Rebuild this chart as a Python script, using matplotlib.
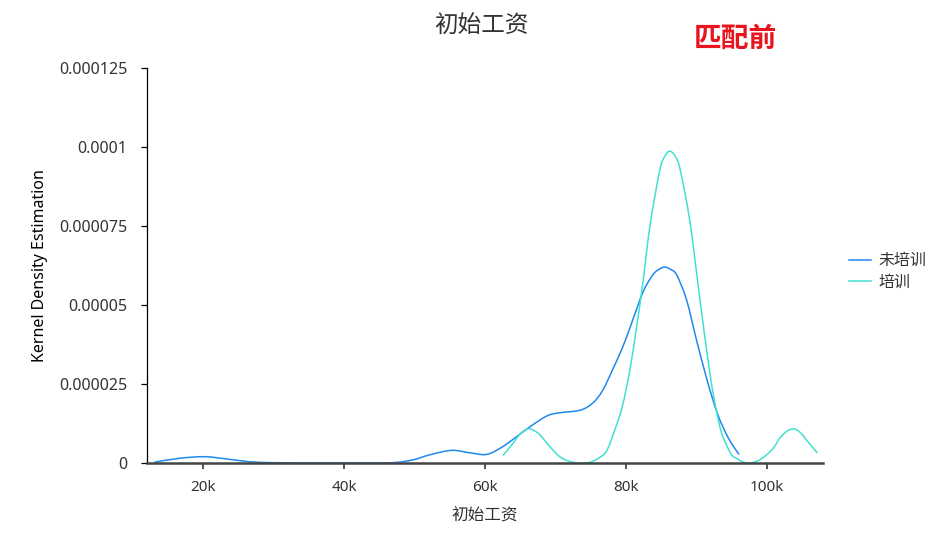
import matplotlib
matplotlib.use("Agg")
import numpy as np
import matplotlib.pyplot as plt
from matplotlib.lines import Line2D
from matplotlib.path import Path
from matplotlib.patches import PathPatch

plt.rcParams['font.family'] = ['Noto Sans', 'Noto Sans CJK SC', 'DejaVu Sans']

# ---- data (x in thousands, density in 1e-5) ----
untrained_x = [13.2, 16.7, 20.2, 23.3, 26.6, 30, 35, 40, 45, 47.5, 49.8, 52.2, 55.3, 57.9,
               60.2, 62.1, 64.0, 66.4, 68.8, 70.6, 73.5, 75.3, 76.7, 78.2, 79.5, 80.6, 82.4,
               83.8, 84.7, 85.5, 86.3, 87.2, 88.6, 90.0, 91.5, 93.0, 94.5, 96.0]
untrained_y = [0.03, 0.15, 0.20, 0.13, 0.04, 0.01, 0.0, 0.0, 0.0, 0.02, 0.10, 0.26, 0.40, 0.32,
               0.27, 0.46, 0.75, 1.15, 1.49, 1.59, 1.67, 1.90, 2.30, 3.0, 3.65, 4.3, 5.4,
               5.95, 6.13, 6.2, 6.13, 5.95, 5.16, 3.9, 2.63, 1.55, 0.80, 0.28]

trained_x = [62.6, 64.0, 65.0, 66.1, 67.0, 67.8, 69.2, 70.6, 72.0, 73.5, 75.0, 76.3, 77.3,
             78.5, 79.5, 80.6, 81.5, 82.4, 83.4, 84.8, 85.5, 86.2, 87.0, 87.7, 89.1, 90.5,
             91.9, 92.8, 93.5, 94.2, 95.0, 95.6, 96.5, 97.5, 98.7, 99.9, 101.0, 101.8,
             102.8, 103.8, 104.7, 105.6, 107.1]
trained_y = [0.25, 0.63, 0.92, 1.08, 1.02, 0.89, 0.52, 0.20, 0.05, 0.0, 0.03, 0.18, 0.40,
             1.1, 1.8, 3.0, 4.3, 5.7, 7.5, 9.27, 9.7, 9.87, 9.7, 9.27, 7.6, 5.16,
             2.85, 1.68, 1.0, 0.6, 0.25, 0.16, 0.04, 0.0, 0.07, 0.25, 0.5, 0.78,
             1.0, 1.08, 0.97, 0.73, 0.33]

series_names = ['未培训', '培训']
series_colors = ['#1E88F0', '#40E0D0']

x_ticks = [20, 40, 60, 80, 100]
x_tick_labels = ['20k', '40k', '60k', '80k', '100k']
y_ticks = [0, 2.5, 5.0, 7.5, 10.0, 12.5]
y_tick_labels = ['0', '0.000025', '0.00005', '0.000075', '0.0001', '0.000125']


def smooth_path(xs, ys, k=1 / 6):
    """Smooth line through the data points (cubic Bezier segments, like a 'smooth' line)."""
    p = np.column_stack([xs, ys]).astype(float)
    verts = [p[0]]
    codes = [Path.MOVETO]
    n = len(p)
    for i in range(n - 1):
        p0 = p[i - 1] if i > 0 else p[i]
        p1, p2 = p[i], p[i + 1]
        p3 = p[i + 2] if i + 2 < n else p[i + 1]
        c1 = p1 + (p2 - p0) * k
        c2 = p2 - (p3 - p1) * k
        verts += [c1, c2, p2]
        codes += [Path.CURVE4] * 3
    return Path(verts, codes)


W, H = 944, 537
fig = plt.figure(figsize=(W / 100, H / 100), dpi=100)
left, right, top, bottom = 147, 823, 68, 463
ax = fig.add_axes([left / W, 1 - bottom / H, (right - left) / W, (bottom - top) / H])

for xs, ys, c in [(untrained_x, untrained_y, series_colors[0]),
                  (trained_x, trained_y, series_colors[1])]:
    ax.add_patch(PathPatch(smooth_path(xs, ys), fill=False, edgecolor=c, lw=1.1,
                           capstyle='round', joinstyle='round'))

ax.set_xlim(12.06, 107.95)
ax.set_ylim(0, 12.5)

for s in ['top', 'right']:
    ax.spines[s].set_visible(False)
ax.spines['left'].set_color('#000000')
ax.spines['left'].set_linewidth(0.9)
ax.spines['bottom'].set_color('#444444')
ax.spines['bottom'].set_linewidth(1.8)

ax.set_xticks(x_ticks)
ax.set_xticklabels(x_tick_labels)
ax.set_yticks(y_ticks)
ax.set_yticklabels(y_tick_labels)
ax.tick_params(axis='x', length=4, width=1.3, color='#444444', labelsize=11,
               labelcolor='#333333', pad=8)
ax.tick_params(axis='y', length=4, width=0.9, color='#000000', labelsize=11.5,
               labelcolor='#333333', pad=10)

ax.set_xlabel('初始工资', fontsize=12, color='#333333', labelpad=9)
ax.set_ylabel('Kernel Density Estimation', fontsize=11.5, color='#000000', labelpad=8)

fig.text(481 / W, 1 - 27 / H, '初始工资', ha='center', va='center', fontsize=17, color='#333333')
fig.text(735 / W, 1 - 40 / H, '匹配前', ha='center', va='center', fontsize=20,
         fontweight='bold', color='#E8141E')

handles = [Line2D([0], [0], color=c, lw=1.1) for c in series_colors]
fig.legend(handles, series_names, loc='center left', bbox_to_anchor=(849 / W, 1 - 272 / H),
           frameon=False, fontsize=11.5, handlelength=1.4, handletextpad=0.45,
           labelspacing=0.35, borderpad=0, borderaxespad=0, labelcolor='#333333')

fig.savefig('out.png', dpi=100)
